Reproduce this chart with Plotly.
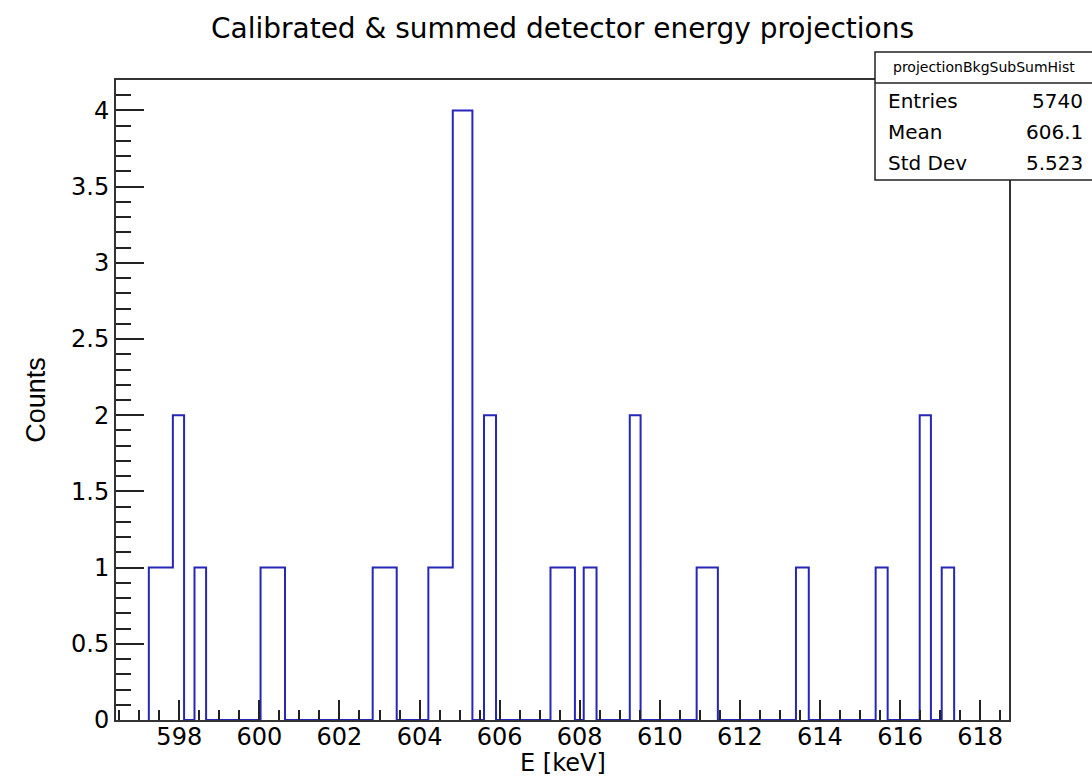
import plotly.graph_objects as go

# ---- data ----
bin_edges = [597.24, 597.84, 598.12, 598.38, 598.67, 600.03, 600.64, 602.83, 603.43,
             604.22, 604.83, 605.32, 605.61, 605.91, 607.27, 607.88, 608.10, 608.42,
             609.25, 609.52, 610.92, 611.45, 613.40, 613.72, 615.39, 615.69, 616.49,
             616.77, 617.04, 617.35]
counts = [1, 2, 0, 1, 0, 1, 0, 1, 0, 1, 4, 0, 2, 0, 1, 0, 1, 0, 2, 0, 1, 0, 1, 0, 1,
          0, 2, 0, 1]

hist_name = "projectionBkgSubSumHist"
stats_labels = ["Entries", "Mean", "Std Dev"]
stats_values = ["5740", "606.1", "5.523"]

title_text = "Calibrated & summed detector energy projections"
x_title = "E [keV]"
y_title = "Counts"
x_range = [596.42, 618.72]
y_range = [0, 4.2]

# ---- step outline (ROOT-like histogram) ----
xs = [bin_edges[0]] + bin_edges[:-1] + [bin_edges[-1]]
ys = [0] + counts + [0]

FONT = "DejaVu Sans"
W, H = 1092, 777
L, R, T, B = 116, 83, 80, 57
PW, PH = W - L - R, H - T - B


def px_x(p):
    return (p - L) / PW


def px_y(p):
    return (H - B - p) / PH


fig = go.Figure()
fig.add_trace(go.Scatter(
    x=xs, y=ys, mode="lines", line=dict(shape="hv", color="#2626b8", width=2),
    hoverinfo="skip", showlegend=False,
))

axis_common = dict(
    showgrid=False, zeroline=False, showline=True, linecolor="#333", linewidth=2,
    mirror=True, ticks="inside", tickcolor="#222", tickwidth=1.5,
    layer="above traces", tickfont=dict(family=FONT, size=24, color="black"),
)

fig.update_layout(
    width=W, height=H,
    margin=dict(l=L, r=R, t=T, b=B, autoexpand=False),
    paper_bgcolor="white", plot_bgcolor="white",
    title=dict(text=title_text, x=0.5, xref="paper", xanchor="center",
               y=1 - 28 / H, yanchor="middle",
               font=dict(family=FONT, size=28, color="black")),
    xaxis=dict(range=x_range, tick0=598, dtick=2, ticklen=20, ticklabelstandoff=-6,
               minor=dict(dtick=0.5, tick0=598, ticklen=10, ticks="inside",
                          tickcolor="#222", tickwidth=1.5),
               automargin=False, **axis_common),
    yaxis=dict(range=y_range, tick0=0, dtick=0.5, ticklen=28,
               minor=dict(dtick=0.1, tick0=0, ticklen=15, ticks="inside",
                          tickcolor="#222", tickwidth=1.5),
               title=dict(text=y_title, standoff=18,
                          font=dict(family="Liberation Sans", size=27, color="black")),
               automargin=False, **axis_common),
)

# x-axis title placed like ROOT (centred under the axis)
fig.add_annotation(text=x_title, xref="paper", yref="paper", x=0.5, y=px_y(763),
                   xanchor="center", yanchor="middle", showarrow=False,
                   font=dict(family=FONT, size=24, color="black"))

# ---- stats box ----
bx0, bx1 = px_x(875), px_x(1098)
by0, by1 = px_y(180), px_y(52)
fig.add_shape(type="rect", xref="paper", yref="paper", x0=bx0, x1=bx1, y0=by0, y1=by1,
              fillcolor="white", line=dict(color="#222", width=1.5), layer="above")
fig.add_shape(type="line", xref="paper", yref="paper", x0=bx0, x1=bx1,
              y0=px_y(83), y1=px_y(83), line=dict(color="#222", width=1.5), layer="above")
fig.add_annotation(text=hist_name, xref="paper", yref="paper", x=px_x(984), y=px_y(67),
                   xanchor="center", yanchor="middle", showarrow=False,
                   font=dict(family=FONT, size=14, color="black"))
row_y = [101.5, 132, 163]
for lab, val, yy in zip(stats_labels, stats_values, row_y):
    fig.add_annotation(text=lab, xref="paper", yref="paper", x=px_x(886), y=px_y(yy),
                       xanchor="left", yanchor="middle", showarrow=False,
                       font=dict(family=FONT, size=20, color="black"))
    fig.add_annotation(text=val, xref="paper", yref="paper", x=px_x(1085), y=px_y(yy),
                       xanchor="right", yanchor="middle", showarrow=False,
                       font=dict(family=FONT, size=20, color="black"))

fig.write_html("out.html")
